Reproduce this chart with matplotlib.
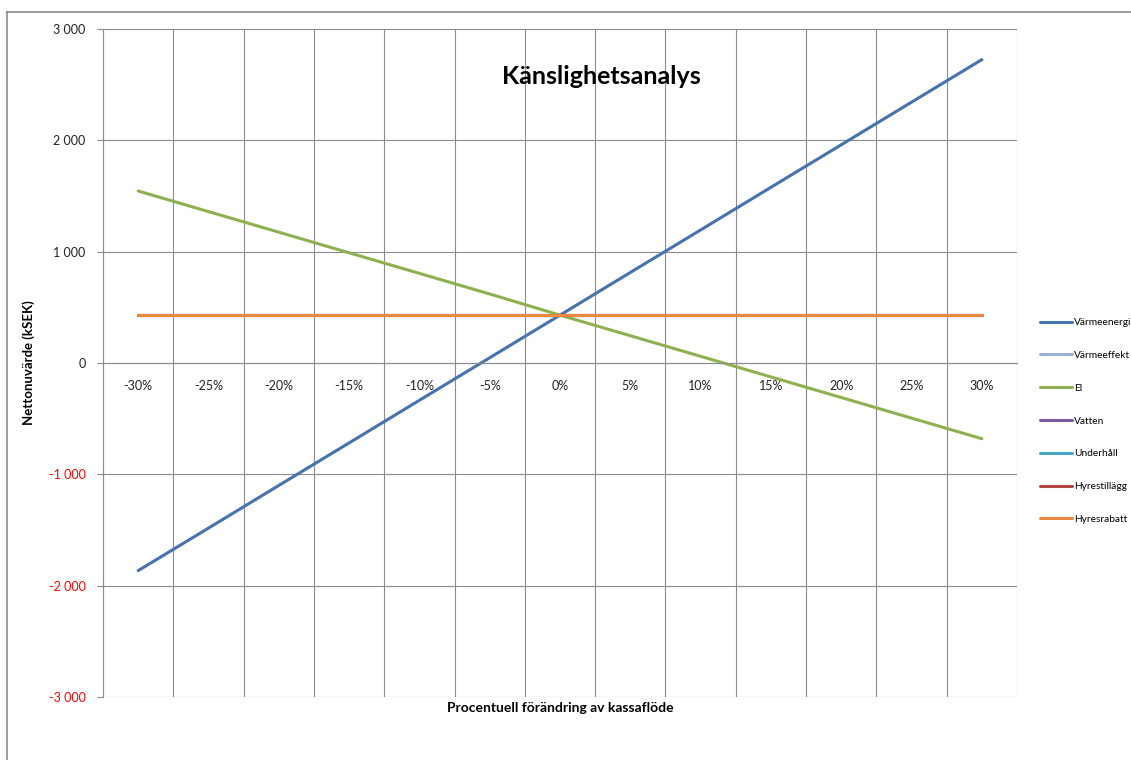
import matplotlib
matplotlib.use("Agg")
import matplotlib.pyplot as plt
from matplotlib.lines import Line2D
from matplotlib.ticker import FuncFormatter, MultipleLocator, FixedLocator

plt.rcParams['font.family'] = ['Lato', 'DejaVu Sans']

categories = ['-30%', '-25%', '-20%', '-15%', '-10%', '-5%', '0%',
              '5%', '10%', '15%', '20%', '25%', '30%']

varmeenergi = [-1865, -1483, -1100, -718, -335, 47, 430, 813, 1195, 1578, 1960, 2343, 2725]
varmeeffekt = [430] * 13
el = [1545, 1360, 1175, 990, 805, 620, 430, 245, 60, -125, -310, -495, -680]
vatten = [430] * 13
underhall = [430] * 13
hyrestillagg = [430] * 13
hyresrabatt = [430] * 13

series = [
    ('Värmeenergi', varmeenergi, '#4672AE'),
    ('Värmeeffekt', varmeeffekt, '#9DB2DA'),
    ('El', el, '#8FB04F'),
    ('Vatten', vatten, '#7A5C9E'),
    ('Underhåll', underhall, '#45A5C2'),
    ('Hyrestillägg', hyrestillagg, '#B34542'),
    ('Hyresrabatt', hyresrabatt, '#EB8A3E'),
]

W, H = 1131, 760
fig = plt.figure(figsize=(W / 100, H / 100), dpi=100)
ax = fig.add_axes([103 / W, 1 - 697 / H, (1017 - 103) / W, (697 - 29) / H])

x = list(range(len(categories)))
for name, vals, col in series:
    ax.plot(x, vals, color=col, lw=2.2, label=name, solid_capstyle='round')

grid_col = '#8C8C8C'
ax.set_xlim(-0.5, len(categories) - 0.5)
ax.set_ylim(-3000, 3000)

# horizontal gridlines
ax.yaxis.set_major_locator(MultipleLocator(1000))
ax.grid(axis='y', which='major', color=grid_col, lw=0.8)
# vertical gridlines between categories
ax.xaxis.set_minor_locator(FixedLocator([i - 0.5 for i in range(len(categories) + 1)]))
ax.xaxis.set_major_locator(FixedLocator(x))
ax.set_xticklabels(categories)
ax.grid(axis='x', which='minor', color=grid_col, lw=0.8)
ax.set_axisbelow(True)

for s in ['top', 'right']:
    ax.spines[s].set_visible(False)
ax.spines['left'].set_color(grid_col)
ax.spines['left'].set_linewidth(0.8)
ax.spines['bottom'].set_position(('data', 0))
ax.spines['bottom'].set_color(grid_col)
ax.spines['bottom'].set_linewidth(0.8)

ax.tick_params(axis='x', which='both', length=0, pad=12, labelsize=9, labelcolor='#222222')
ax.tick_params(axis='y', which='major', length=4.5, width=0.8, color=grid_col,
               pad=8, labelsize=9)


def fmt(v, pos):
    s = f"{abs(int(round(v))):,}".replace(',', ' ')
    return ('-' if v < 0 else '') + s


ax.yaxis.set_major_formatter(FuncFormatter(fmt))
for lab, val in zip(ax.get_yticklabels(), ax.get_yticks()):
    lab.set_color('#FF0000' if val < 0 else '#222222')

ax.set_ylabel('Nettonuvärde (kSEK)', fontsize=9.5, fontweight='bold')
ax.yaxis.set_label_coords(-(103 - 35) / (1017 - 103), 0.5)
fig.text(560 / W, 1 - 708 / H, 'Procentuell förändring av kassaflöde',
         ha='center', va='center', fontsize=10, fontweight='bold')
fig.text(601 / W, 1 - 77 / H, 'Känslighetsanalys', ha='center', va='center',
         fontsize=18, fontweight='bold')

leg = fig.legend(loc='upper left', bbox_to_anchor=(1040 / W, 1 - 318 / H),
                 frameon=False, fontsize=7.3, handlelength=3.2, handletextpad=0.15,
                 labelspacing=2.34, borderpad=0, borderaxespad=0)

# chart area border
fig.add_artist(Line2D([7 / W, 7 / W], [0, 1 - 12 / H], color='#8C8C8C', lw=1.2))
fig.add_artist(Line2D([7 / W, 1], [1 - 12 / H, 1 - 12 / H], color='#8C8C8C', lw=1.2))

fig.savefig('out.png', dpi=100)
